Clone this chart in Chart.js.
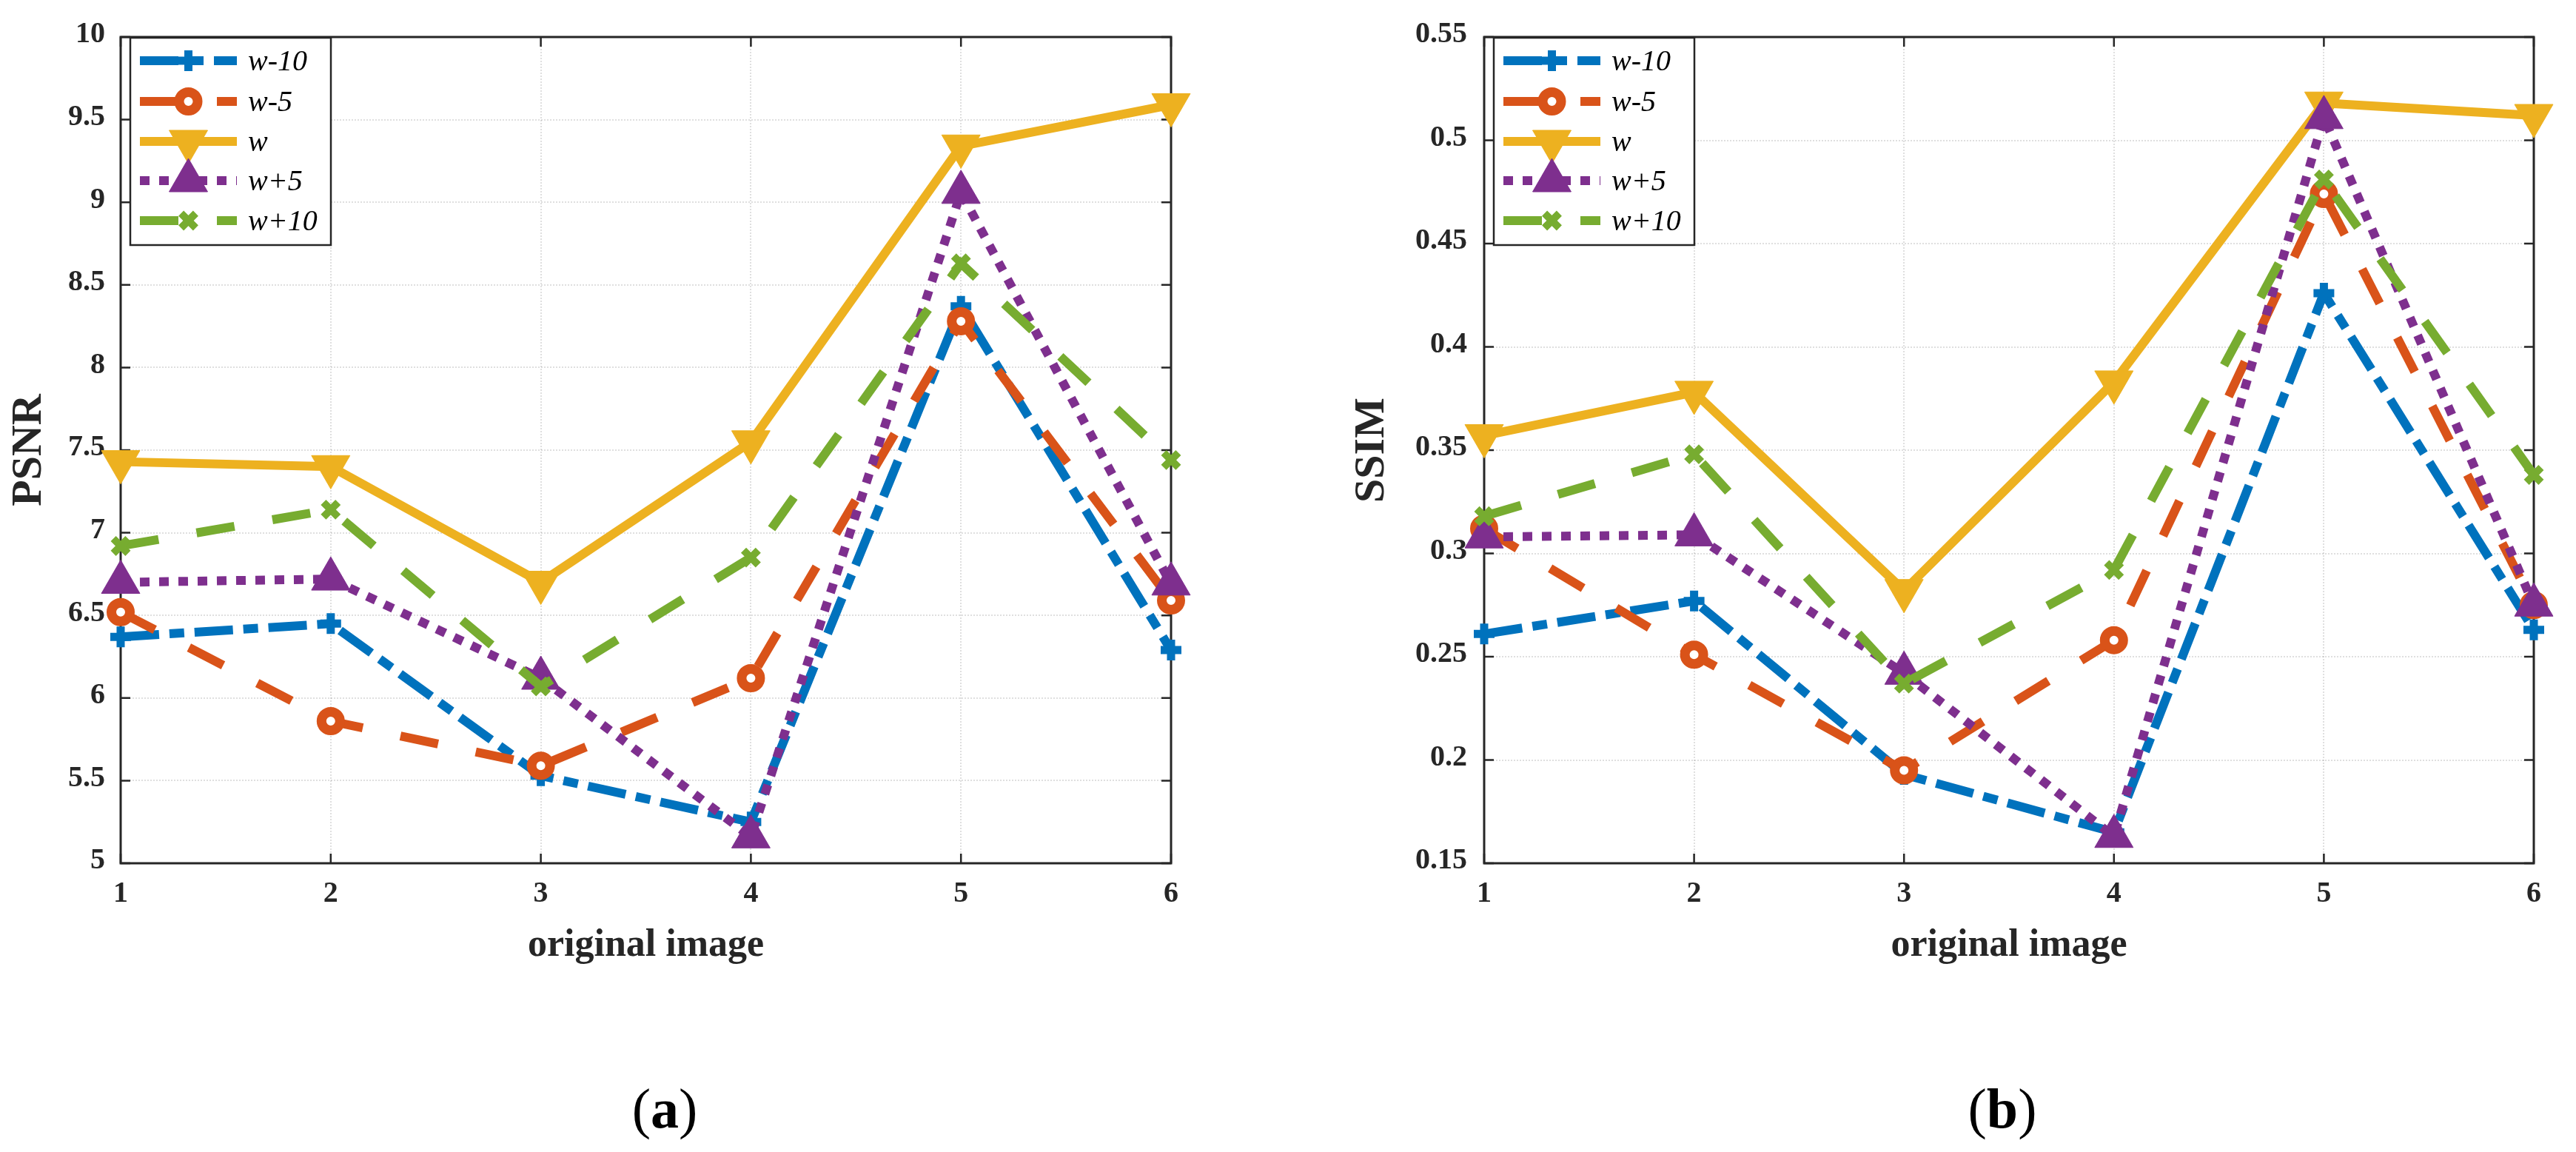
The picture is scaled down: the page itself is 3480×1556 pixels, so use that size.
<!DOCTYPE html>
<html><head><meta charset="utf-8">
<script src="https://cdn.jsdelivr.net/npm/chart.js@4.4.1/dist/chart.umd.min.js"></script>
<style>
html,body{margin:0;padding:0;background:#fff;}
#wrap{position:relative;width:3480px;height:1556px;background:#fff;overflow:hidden;}
canvas{position:absolute;top:0;}
.cap{position:absolute;top:1452px;width:300px;text-align:center;font-family:"Liberation Serif",serif;font-size:76px;line-height:90px;color:#000;}
</style></head>
<body><div id="wrap">
<canvas id="c1" width="1740" height="1340" style="left:0px"></canvas>
<canvas id="c2" width="1740" height="1340" style="left:1740px"></canvas>
<div class="cap" style="left:748px">(<b>a</b>)</div>
<div class="cap" style="left:2555px">(<b>b</b>)</div>
</div>
<script>
// ---------- data ----------
const categories = ['1', '2', '3', '4', '5', '6'];
const seriesNames = ['w-10', 'w-5', 'w', 'w+5', 'w+10'];

const psnrW10  = [6.37, 6.45, 5.53, 5.25, 8.37, 6.29];
const psnrW5   = [6.52, 5.86, 5.59, 6.12, 8.28, 6.59];
const psnrW    = [7.43, 7.40, 6.70, 7.55, 9.34, 9.59];
const psnrWp5  = [6.70, 6.72, 6.12, 5.16, 9.06, 6.69];
const psnrWp10 = [6.92, 7.14, 6.07, 6.85, 8.63, 7.44];

const ssimW10  = [0.261, 0.277, 0.193, 0.165, 0.426, 0.263];
const ssimW5   = [0.312, 0.251, 0.195, 0.258, 0.474, 0.275];
const ssimW    = [0.357, 0.378, 0.282, 0.383, 0.518, 0.512];
const ssimWp5  = [0.308, 0.309, 0.242, 0.163, 0.511, 0.275];
const ssimWp10 = [0.318, 0.348, 0.237, 0.292, 0.481, 0.338];

const psnrTickValues = [5, 5.5, 6, 6.5, 7, 7.5, 8, 8.5, 9, 9.5, 10];
const psnrTickLabels = ['5', '5.5', '6', '6.5', '7', '7.5', '8', '8.5', '9', '9.5', '10'];
const ssimTickValues = [0.15, 0.2, 0.25, 0.3, 0.35, 0.4, 0.45, 0.5, 0.55];
const ssimTickLabels = ['0.15', '0.2', '0.25', '0.3', '0.35', '0.4', '0.45', '0.5', '0.55'];

const xTitle = 'original image';

// ---------- styles ----------
const FONT = '"Liberation Serif", "Times New Roman", serif';
const AXC = '#262626';
const colors = ['#0072BD', '#D95319', '#EDB120', '#7E2F8E', '#77AC30'];
const dashes = [[52, 14, 20, 14], [52, 52], [], [13, 13], [52, 52]];
const markerStyles = ['cross', 'circle', 'triangle', 'triangle', 'crossRot'];
const markerRadii = [14, 12.5, 30, 30, 14];
const markerBorder = [11, 13, 1, 1, 10];
const markerRot = [0, 0, 180, 0, 0];
const markerFill = [colors[0], '#ffffff', colors[2], colors[3], colors[4]];

function drawMarker(ctx, i, x, y) {
  const r = markerRadii[i];
  ctx.save();
  ctx.setLineDash([]);
  ctx.fillStyle = markerFill[i];
  ctx.strokeStyle = colors[i];
  ctx.lineWidth = markerBorder[i];
  ctx.beginPath();
  const st = markerStyles[i];
  if (st === 'cross') {
    ctx.moveTo(x - r, y); ctx.lineTo(x + r, y);
    ctx.moveTo(x, y - r); ctx.lineTo(x, y + r);
    ctx.stroke();
  } else if (st === 'crossRot') {
    const o = r * Math.SQRT1_2;
    ctx.moveTo(x - o, y - o); ctx.lineTo(x + o, y + o);
    ctx.moveTo(x - o, y + o); ctx.lineTo(x + o, y - o);
    ctx.stroke();
  } else if (st === 'circle') {
    ctx.arc(x, y, r, 0, Math.PI * 2);
    ctx.closePath(); ctx.fill(); ctx.stroke();
  } else if (st === 'triangle') {
    let rad = markerRot[i] * Math.PI / 180;
    ctx.moveTo(x + Math.sin(rad) * r, y - Math.cos(rad) * r);
    rad += 2 * Math.PI / 3;
    ctx.lineTo(x + Math.sin(rad) * r, y - Math.cos(rad) * r);
    rad += 2 * Math.PI / 3;
    ctx.lineTo(x + Math.sin(rad) * r, y - Math.cos(rad) * r);
    ctx.closePath(); ctx.fill(); ctx.stroke();
  }
  ctx.restore();
}

const boxPlugin = {
  id: 'matlabBox',
  beforeDatasetsDraw(chart) {
    const ctx = chart.ctx, ca = chart.chartArea;
    const xs = chart.scales.x, ys = chart.scales.y;
    ctx.save();
    ctx.setLineDash([]);
    ctx.strokeStyle = AXC;
    ctx.lineWidth = 3;
    ctx.strokeRect(ca.left, ca.top, ca.right - ca.left, ca.bottom - ca.top);
    ctx.lineWidth = 2.5;
    ctx.beginPath();
    xs.ticks.forEach((t, i) => {
      const px = xs.getPixelForTick(i);
      ctx.moveTo(px, ca.bottom); ctx.lineTo(px, ca.bottom - 13);
      ctx.moveTo(px, ca.top); ctx.lineTo(px, ca.top + 13);
    });
    ys.ticks.forEach(t => {
      const py = ys.getPixelForValue(t.value);
      ctx.moveTo(ca.left, py); ctx.lineTo(ca.left + 13, py);
      ctx.moveTo(ca.right, py); ctx.lineTo(ca.right - 13, py);
    });
    ctx.stroke();
    ctx.restore();
  }
};

const legendPlugin = {
  id: 'matlabLegend',
  afterDatasetsDraw(chart) {
    const ctx = chart.ctx, ca = chart.chartArea;
    const bx = ca.left + 13, by = ca.top + 1, bw = 271, bh = 280;
    const rowY = [31, 86, 140, 193, 247];
    ctx.save();
    ctx.fillStyle = '#ffffff';
    ctx.fillRect(bx, by, bw, bh);
    ctx.strokeStyle = AXC;
    ctx.lineWidth = 2.5;
    ctx.setLineDash([]);
    ctx.strokeRect(bx, by, bw, bh);
    chart.data.datasets.forEach((ds, i) => {
      const y = by + rowY[i];
      ctx.save();
      ctx.strokeStyle = colors[i];
      ctx.lineWidth = 12;
      ctx.lineCap = 'butt';
      ctx.setLineDash(dashes[i]);
      ctx.beginPath();
      ctx.moveTo(bx + 13, y); ctx.lineTo(bx + 144, y);
      ctx.stroke();
      ctx.restore();
    });
    chart.data.datasets.forEach((ds, i) => {
      drawMarker(ctx, i, bx + 78.5, by + rowY[i]);
    });
    ctx.fillStyle = '#000';
    ctx.font = 'italic 40px ' + FONT;
    ctx.textBaseline = 'middle';
    ctx.textAlign = 'left';
    chart.data.datasets.forEach((ds, i) => {
      ctx.fillText(ds.label, bx + 159, by + rowY[i] + 2);
    });
    ctx.restore();
  }
};

function makeChart(id, series, yMin, yMax, tickVals, tickLabels, yTitle, yAxisWidth, padRight, yTitlePad, yTickPad) {
  const datasets = seriesNames.map((name, i) => ({
    label: name,
    data: series[i],
    borderColor: colors[i],
    backgroundColor: colors[i],
    borderWidth: 12,
    borderDash: dashes[i],
    borderCapStyle: 'butt',
    borderJoinStyle: 'miter',
    pointStyle: markerStyles[i],
    pointRadius: markerRadii[i],
    pointHoverRadius: markerRadii[i],
    pointBorderWidth: markerBorder[i],
    pointHoverBorderWidth: markerBorder[i],
    pointRotation: markerRot[i],
    pointBackgroundColor: markerFill[i],
    pointBorderColor: colors[i],
    fill: false,
    tension: 0,
    clip: false,
    order: 5 - i
  }));
  const gridOpts = { color: 'rgba(38,38,38,0.15)', lineWidth: 2, drawTicks: false, offset: false };
  const borderOpts = { display: false, dash: [2, 2] };
  return new Chart(document.getElementById(id), {
    type: 'line',
    data: { labels: categories, datasets },
    options: {
      responsive: false,
      animation: false,
      devicePixelRatio: 1,
      events: [],
      layout: { padding: { left: 0, top: 50, right: padRight, bottom: 0 } },
      plugins: { legend: { display: false }, tooltip: { enabled: false } },
      scales: {
        x: {
          type: 'category',
          offset: false,
          grid: gridOpts,
          border: borderOpts,
          ticks: { font: { family: FONT, size: 40, weight: 'bold' }, color: AXC, padding: 18, maxRotation: 0, autoSkip: false },
          title: { display: true, text: xTitle, color: AXC, font: { family: FONT, size: 52, weight: 'bold', lineHeight: 1 }, padding: { top: 0, bottom: 36 } },
          afterFit: s => { s.height = 174; }
        },
        y: {
          type: 'linear',
          min: yMin,
          max: yMax,
          grid: gridOpts,
          border: borderOpts,
          afterBuildTicks: s => { s.ticks = tickVals.map(v => ({ value: v })); },
          ticks: {
            font: { family: FONT, size: 40, weight: 'bold' }, color: AXC, padding: yTickPad,
            labelOffset: -3,
            callback: (v) => { const k = tickVals.findIndex(t => Math.abs(t - v) < 1e-9); return k >= 0 ? tickLabels[k] : ''; }
          },
          title: { display: true, text: yTitle, color: AXC, font: { family: FONT, size: 58, weight: 'bold', lineHeight: 1 }, padding: { top: yTitlePad, bottom: 0 } },
          afterFit: s => { s.width = yAxisWidth; }
        }
      }
    },
    plugins: [boxPlugin, legendPlugin]
  });
}

makeChart('c1', [psnrW10, psnrW5, psnrW, psnrWp5, psnrWp10], 5, 10, psnrTickValues, psnrTickLabels, 'PSNR', 163, 158, 11, 21);
makeChart('c2', [ssimW10, ssimW5, ssimW, ssimWp5, ssimWp10], 0.15, 0.55, ssimTickValues, ssimTickLabels, 'SSIM', 265, 57, 85, 23);
</script>
</body></html>
